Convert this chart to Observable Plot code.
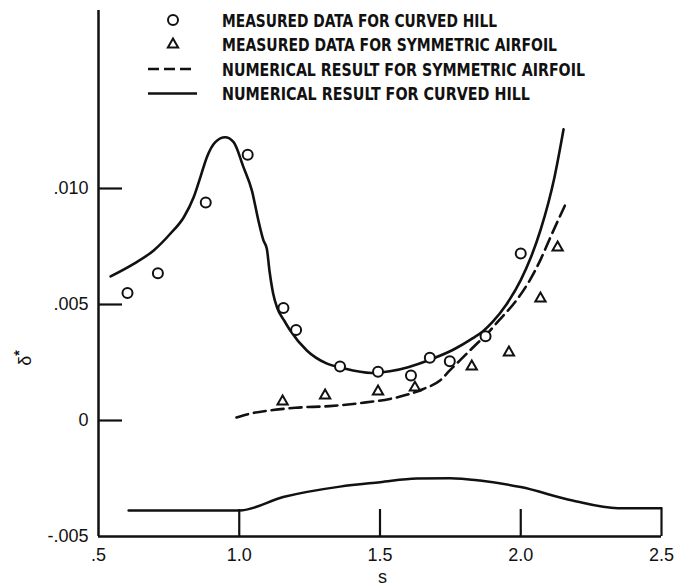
<!DOCTYPE html>
<html>
<head>
<meta charset="utf-8">
<script src="https://cdn.jsdelivr.net/npm/d3@7"></script>
<script src="https://cdn.jsdelivr.net/npm/@observablehq/plot@0.6"></script>
<style>
  html, body { margin: 0; padding: 0; background: white; }
  #chart { width: 680px; height: 588px; }
</style>
</head>
<body>
<div id="chart"></div>
<script>
// ---- data ----
// Numerical result for curved hill (solid line)
const hillNumS = [0.543, 0.625, 0.696, 0.755, 0.803, 0.838, 0.862, 0.885, 0.915, 0.95, 0.98, 1.015, 1.045, 1.068, 1.086, 1.098, 1.108, 1.12, 1.135, 1.16, 1.18, 1.24, 1.31, 1.37, 1.47, 1.535, 1.60, 1.677, 1.76, 1.83, 1.866, 1.90, 1.949, 2.0, 2.035, 2.07, 2.12, 2.152];
const hillNumD = [0.00621, 0.00675, 0.00733, 0.00805, 0.00876, 0.00962, 0.01049, 0.01135, 0.0120, 0.01221, 0.0120, 0.01092, 0.00991, 0.00862, 0.00776, 0.0074, 0.0064, 0.0055, 0.00485, 0.0043, 0.0039, 0.00302, 0.00246, 0.00225, 0.00205, 0.00212, 0.0023, 0.00262, 0.00305, 0.00355, 0.00385, 0.00425, 0.0050, 0.00605, 0.0070, 0.0082, 0.0105, 0.01255];
// Numerical result for symmetric airfoil (dashed line)
const airNumS = [0.99, 1.04, 1.12, 1.20, 1.32, 1.45, 1.535, 1.654, 1.713, 1.748, 1.784, 1.843, 1.878, 1.914, 1.984, 2.03, 2.073, 2.10, 2.16];
const airNumD = [0.00013, 0.0003, 0.00045, 0.00055, 0.00062, 0.00078, 0.00093, 0.00136, 0.00172, 0.00216, 0.00259, 0.0033, 0.0037, 0.0042, 0.00517, 0.006, 0.0070, 0.00775, 0.00935];
// Measured data for curved hill (circles)
const hillMeasS = [0.603, 0.711, 0.881, 1.03, 1.157, 1.202, 1.358, 1.493, 1.61, 1.677, 1.748, 1.875, 2.0];
const hillMeasD = [0.0055, 0.00635, 0.0094, 0.01145, 0.00485, 0.0039, 0.00233, 0.0021, 0.00194, 0.0027, 0.00255, 0.00363, 0.0072];
// Measured data for symmetric airfoil (triangles)
const airMeasS = [1.154, 1.305, 1.493, 1.624, 1.826, 1.958, 2.07, 2.131];
const airMeasD = [0.00082, 0.00108, 0.00125, 0.00142, 0.00233, 0.00293, 0.00526, 0.00746];
// Hill geometry sketch along the bottom
const geomS = [0.607, 1.0, 1.156, 1.358, 1.5, 1.63, 1.75, 1.855, 2.0, 2.184, 2.345, 2.5];
const geomD = [-0.00388, -0.00388, -0.0033, -0.00285, -0.00266, -0.0025, -0.00249, -0.00259, -0.00287, -0.00345, -0.00378, -0.00378];
// Ticks
const xTicks = [0.5, 1.0, 1.5, 2.0, 2.5];
const xTickLabels = [".5", "1.0", "1.5", "2.0", "2.5"];
const yTicks = [-0.005, 0, 0.005, 0.010];
const yTickLabels = ["-.005", "0", ".005", ".010"];
const xTitle = "s";
const legendLabels = [
  "MEASURED DATA FOR CURVED HILL",
  "MEASURED DATA FOR SYMMETRIC AIRFOIL",
  "NUMERICAL RESULT FOR SYMMETRIC AIRFOIL",
  "NUMERICAL RESULT FOR CURVED HILL"
];

// ---- build tables ----
const zip = (xs, ys) => xs.map((s, i) => ({s, d: ys[i]}));
const hillNum = zip(hillNumS, hillNumD);
const airNum = zip(airNumS, airNumD);
const hillMeas = zip(hillMeasS, hillMeasD);
const airMeas = zip(airMeasS, airMeasD);
const geom = zip(geomS, geomD);

const W = 680, H = 588;
const mL = 98, mR = 19, mT = 10, mB = 52;
const innerW = W - mL - mR, innerH = H - mT - mB;
const yTop = -0.005 + innerH / 116 * 0.005;

const ink = "#111";
const plot = Plot.plot({
  width: W, height: H,
  marginLeft: mL, marginRight: mR, marginTop: mT, marginBottom: mB,
  x: {domain: [0.5, 2.5]},
  y: {domain: [-0.005, yTop]},
  style: {fontFamily: "'Liberation Sans', Arial, sans-serif", fontSize: "18px", color: ink, background: "white"},
  marks: [
    Plot.ruleX([0.5], {stroke: ink, strokeWidth: 2.5}),
    Plot.ruleY([-0.005], {stroke: ink, strokeWidth: 2.5}),
    Plot.tickY(yTicks.filter(v => v > -0.005), {y: d => d, stroke: ink, strokeWidth: 2.2, insetRight: innerW - 24}),
    Plot.tickX(xTicks.filter(v => v > 0.5), {x: d => d, stroke: ink, strokeWidth: 2.2, insetTop: innerH - 27}),
    Plot.axisY({ticks: yTicks, tickFormat: d => yTickLabels[yTicks.indexOf(d)], tickSize: 0, tickPadding: 10, label: null}),
    Plot.axisX({ticks: xTicks, tickFormat: d => xTickLabels[xTicks.indexOf(d)], tickSize: 0, tickPadding: 12, label: null}),
    Plot.text([xTitle], {frameAnchor: "bottom", dx: 2.5, dy: 46, fill: ink}),
    Plot.line(geom, {x: "s", y: "d", stroke: ink, strokeWidth: 2.5, curve: "monotone-x"}),
    Plot.line(hillNum, {x: "s", y: "d", stroke: ink, strokeWidth: 2.6, curve: "monotone-x"}),
    Plot.line(airNum, {x: "s", y: "d", stroke: ink, strokeWidth: 2.6, strokeDasharray: "12,6", curve: "monotone-x"}),
    Plot.dot(hillMeas, {x: "s", y: "d", symbol: "circle", r: 5, stroke: ink, strokeWidth: 2, fill: "white"}),
    Plot.dot(airMeas, {x: "s", y: "d", symbol: "triangle", r: 3.8, stroke: ink, strokeWidth: 2, fill: "white"})
  ]
});
document.getElementById("chart").appendChild(plot);

// ---- y label and legend overlays ----
const svg = d3.select(plot);
const ylab = svg.append("text")
  .attr("transform", "translate(31,358) rotate(-90)")
  .attr("text-anchor", "middle")
  .attr("font-family", "'Liberation Sans', Arial, sans-serif")
  .attr("font-size", 18).attr("fill", ink);
ylab.append("tspan").text("δ");
ylab.append("tspan").attr("dy", "-0.5em").attr("font-size", 14).attr("font-weight", "bold").text("*");

const rowsY = [20, 44.5, 69, 93.5];
const textEnds = [497, 557, 585, 530];
const lg = svg.append("g");
// symbols
lg.append("path").attr("d", d3.symbol(d3.symbolCircle, Math.PI * 25)())
  .attr("transform", `translate(173,${rowsY[0]})`).attr("fill", "white").attr("stroke", ink).attr("stroke-width", 2);
lg.append("path").attr("d", d3.symbol(d3.symbolTriangle, Math.PI * 3.8 * 3.8)())
  .attr("transform", `translate(173,${rowsY[1]})`).attr("fill", "white").attr("stroke", ink).attr("stroke-width", 2);
lg.append("line").attr("x1", 148).attr("x2", 196).attr("y1", rowsY[2]).attr("y2", rowsY[2])
  .attr("stroke", ink).attr("stroke-width", 2.6).attr("stroke-dasharray", "11,5");
lg.append("line").attr("x1", 148).attr("x2", 197).attr("y1", rowsY[3]).attr("y2", rowsY[3])
  .attr("stroke", ink).attr("stroke-width", 2.6);
legendLabels.forEach((t, i) => {
  lg.append("text")
    .attr("x", 222).attr("y", rowsY[i] + 6.6)
    .attr("text-anchor", "start")
    .attr("font-family", "'Liberation Sans Narrow', 'DejaVu Sans Condensed', sans-serif")
    .attr("font-weight", "bold").attr("font-size", 18).attr("fill", ink)
    .attr("textLength", textEnds[i] - 222).attr("lengthAdjust", "spacingAndGlyphs")
    .text(t);
});
</script>
</body>
</html>
